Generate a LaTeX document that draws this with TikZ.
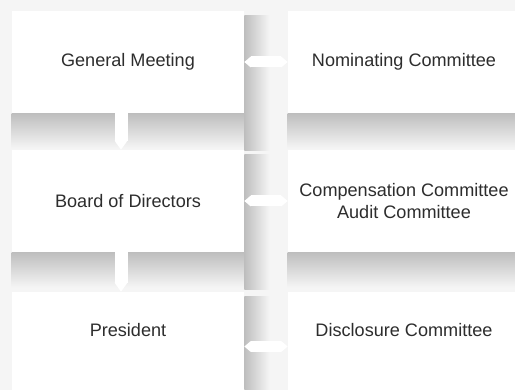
\documentclass[tikz,border=0pt]{standalone}
\usepackage{fontspec}
\setmainfont{Liberation Sans}
\usepackage{xcolor}
\usepackage{tikz}
\usetikzlibrary{arrows.meta, positioning, backgrounds, calc}
\definecolor{bgcolor}{RGB}{245,245,245}
\definecolor{shadowcolor}{RGB}{190,190,190}
\definecolor{labelcolor}{RGB}{45,45,45}

\begin{document}
\begin{tikzpicture}[
    box/.style={fill=white, minimum width=4.64cm, minimum height=2.04cm, inner sep=0pt, align=center, font=\fontsize{10.3}{13}\selectfont, text=labelcolor},
    boxtext/.style={inner sep=0pt, font=\fontsize{10.3}{13}\selectfont, text=labelcolor},
    downlink/.style={white, line width=0.26cm, -{Triangle[length=0.18cm, width=0pt 1, line width=0pt]}},
    sidelink/.style={white, line width=0.22cm, {Triangle[length=0.13cm, width=0pt 1, line width=0pt]}-{Triangle[length=0.13cm, width=0pt 1, line width=0pt]}},
    dropshadow/.style={top color=shadowcolor, middle color=shadowcolor!40!bgcolor, bottom color=bgcolor},
    sideshadow/.style={left color=shadowcolor, middle color=shadowcolor!40!bgcolor, right color=bgcolor}
]
    \useasboundingbox (0,0) rectangle (10.3,7.8);
    \clip (0,0) rectangle (10.3,7.8);

    % Bodies (left column)
    \node[box] (gm) at (2.56,6.56) {General Meeting};
    \node[box] (bd) at (2.56,3.78) {Board of Directors};
    \node[box, label={[boxtext, yshift=0.26cm]center:President}] (pr) at (2.56,0.94) {};

    % Committees (right column)
    \node[box] (nc) at (8.08,6.56) {Nominating Committee};
    \node[box] (cc) at (8.08,3.78) {Compensation Committee\\Audit Committee};
    \node[box, label={[boxtext, yshift=0.26cm]center:Disclosure Committee}] (dc) at (8.08,0.94) {};

    % Background and shadows
    \begin{scope}[on background layer]
        \clip (0,0) rectangle (10.3,7.8);
        \fill[bgcolor] (0,0) rectangle (10.3,7.8);
        \shade[dropshadow] (gm.south west) rectangle ($(gm.south east)+(0,-0.7)$);
        \shade[dropshadow] (bd.south west) rectangle ($(bd.south east)+(0,-0.7)$);
        \shade[dropshadow] (nc.south west) rectangle ($(nc.south east)+(0,-0.7)$);
        \shade[dropshadow] (cc.south west) rectangle ($(cc.south east)+(0,-0.7)$);
        \shade[sideshadow] ($(gm.north east)+(0,-0.1)$) rectangle ($(gm.south east)+(0.5,-0.74)$);
        \shade[sideshadow] ($(bd.north east)+(0,-0.1)$) rectangle ($(bd.south east)+(0.5,-0.74)$);
        \shade[sideshadow] ($(pr.north east)+(0,-0.1)$) rectangle ($(pr.south east)+(0.5,0)$);
    \end{scope}

    % Links
    \draw[downlink] ([xshift=-0.14cm]gm.south) -- ([xshift=-0.14cm]bd.north);
    \draw[downlink] ([xshift=-0.14cm]bd.south) -- ([xshift=-0.14cm]pr.north);
    \draw[sidelink] (gm.east) -- (nc.west);
    \draw[sidelink] (bd.east) -- (cc.west);
    \draw[sidelink] ([yshift=-0.07cm]pr.east) -- ([yshift=-0.07cm]dc.west);
\end{tikzpicture}
\end{document}
